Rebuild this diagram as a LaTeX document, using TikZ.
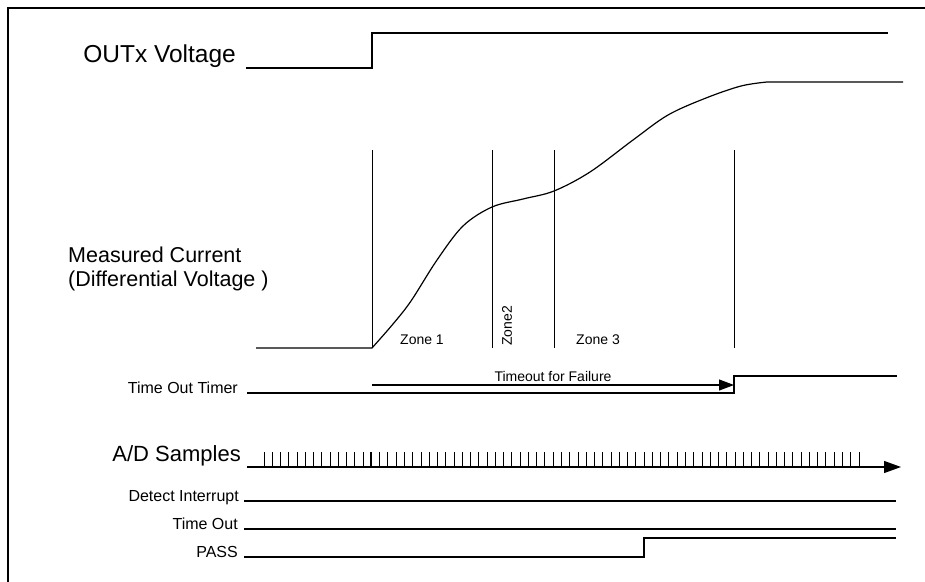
\documentclass[tikz,border=0pt]{standalone}
\usepackage{fontspec}
\setmainfont{Liberation Sans}
\usetikzlibrary{arrows.meta,positioning}

\begin{document}
\begin{tikzpicture}[
    x=1pt, y=-1pt,
    biglabel/.style={inner sep=0pt, font=\fontsize{21.5}{24}\selectfont},
    smalllabel/.style={inner sep=0pt, font=\fontsize{16}{18}\selectfont},
    zonelabel/.style={inner sep=0pt, font=\fontsize{14}{16}\selectfont},
    wave/.style={line width=1.2pt, line join=miter},
    marker/.style={line width=1pt},
    timearrow/.style={-{Triangle[length=15pt, width=11pt]}, line width=1.1pt},
    samplearrow/.style={-{Triangle[length=17pt, width=12pt]}, line width=1.2pt}
]
\useasboundingbox (0,0) rectangle (925,581);
\draw[line width=1.5pt] (8,595) -- (8,8) -- (940,8);

% signal names
\node[biglabel, anchor=base east, font=\fontsize{24.5}{28}\selectfont] (outx) at (236,62) {OUTx Voltage};
\node[biglabel, anchor=base west] (meas) at (68,262) {Measured Current};
\node[biglabel, anchor=base west] (diff) at (68,286) {(Differential Voltage )};
\node[smalllabel, anchor=base east] (timer) at (238,393) {Time Out Timer};
\node[biglabel, anchor=base east, font=\fontsize{22}{24}\selectfont] (adc) at (241,461) {A/D Samples};
\node[smalllabel, anchor=base east] (detect) at (239,501) {Detect Interrupt};
\node[smalllabel, anchor=base east] (tout) at (238,529) {Time Out};
\node[smalllabel, anchor=base east] (pass) at (238,557) {PASS};

% zone markers
\foreach \x/\n in {372/a, 492/b, 554/c, 734/d}
    \draw[marker] (\x,150) coordinate (zt\n) -- (\x,348) coordinate (zb\n);
\node[zonelabel, anchor=base] (zone1) at (422,344) {Zone 1};
\node[zonelabel, rotate=90] (zone2) at (507,326) {Zone2};
\node[zonelabel, anchor=base] (zone3) at (598,344) {Zone 3};

% OUTx voltage
\coordinate (outlo) at (246,68);
\coordinate (outstep) at (372,68);
\coordinate (outhi) at (888,33);
\draw[wave] (outlo) -- (outstep) |- (outhi);

% measured current
\coordinate (curlo) at (256,348);
\coordinate (curend) at (903,82);
\draw[wave] (curlo) -- (zba) -- plot[smooth, tension=0.55] coordinates {
    (372,348) (393,324) (411,301) (437,260) (463,226) (492,207)
    (523,199) (554,191) (590,172) (633,140) (668,115) (706,98)
    (741,86) (767,82)} -- (curend);

% timeout timer
\coordinate (timlo) at (247,393);
\coordinate (timstep) at (734,393);
\coordinate (timhi) at (897,376);
\draw[wave] (timlo) -- (timstep) |- (timhi);
\coordinate (tostart) at (372,385);
\coordinate (toend) at (734,385);
\draw[timearrow] (tostart) -- (toend)
    node[zonelabel, midway, above=4pt, anchor=base] (tolabel) {Timeout for Failure};

% A/D samples
\coordinate (adlo) at (247,467);
\coordinate (adend) at (901,467);
\draw[samplearrow] (adlo) -- (adend);
\foreach \i in {0,...,72}
    \draw[marker] ({264+8.264*\i},452) -- ({264+8.264*\i},467);
\draw[line width=2pt] ({264+8.264*13},452) -- ({264+8.264*13},467);

% status lines
\coordinate (detlo) at (244,501);
\coordinate (dethi) at (896,501);
\draw[wave] (detlo) -- (dethi);
\coordinate (toutlo) at (244,529);
\coordinate (touthi) at (896,529);
\draw[wave] (toutlo) -- (touthi);
\coordinate (passlo) at (244,557);
\coordinate (passstep) at (644,557);
\coordinate (passhi) at (896,538);
\draw[wave] (passlo) -- (passstep) |- (passhi);
\end{tikzpicture}
\end{document}
